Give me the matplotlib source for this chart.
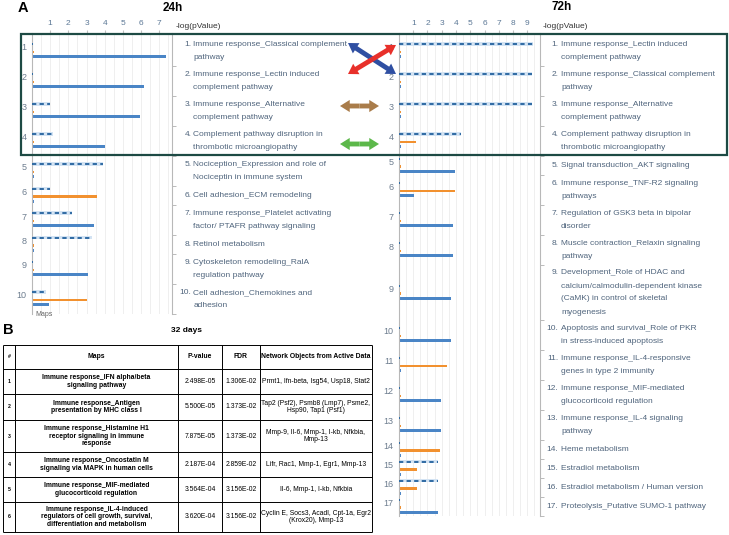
import numpy as np
import matplotlib
matplotlib.use("Agg")
import matplotlib.pyplot as plt
from matplotlib.patches import Rectangle, FancyArrowPatch

plt.rcParams['font.family'] = ['Liberation Sans', 'DejaVu Sans']

# ---- panel A, 24h ----
labels_24h = [
    "Immune response_Classical complement\npathway",
    "Immune response_Lectin induced\ncomplement pathway",
    "Immune response_Alternative\ncomplement pathway",
    "Complement pathway disruption in\nthrombotic microangiopathy",
    "Nociception_Expression and role of\nNociceptin in immune system",
    "Cell adhesion_ECM remodeling",
    "Immune response_Platelet activating\nfactor/ PTAFR pathway signaling",
    "Retinol metabolism",
    "Cytoskeleton remodeling_RalA\nregulation pathway",
    "Cell adhesion_Chemokines and\nadhesion",
]
hatched_24h = [0.05, 0.05, 1.0, 1.15, 3.9, 1.0, 2.2, 3.3, 0.05, 0.75]
orange_24h = [0.12, 0.12, 0.12, 0.12, 0.12, 3.6, 0.12, 0.12, 0.12, 3.05]
blue_24h = [7.4, 6.15, 5.97, 4.03, 0.12, 0.12, 3.4, 0.12, 3.1, 0.95]

# ---- panel A, 72h ----
labels_72h = [
    "Immune response_Lectin induced\ncomplement pathway",
    "Immune response_Classical complement\npathway",
    "Immune response_Alternative\ncomplement pathway",
    "Complement pathway disruption in\nthrombotic microangiopathy",
    "Signal transduction_AKT signaling",
    "Immune response_TNF-R2 signaling\npathways",
    "Regulation of GSK3 beta in bipolar\ndisorder",
    "Muscle contraction_Relaxin signaling\npathway",
    "Development_Role of HDAC and\ncalcium/calmodulin-dependent kinase\n(CaMK) in control of skeletal\nmyogenesis",
    "Apoptosis and survival_Role of PKR\nin stress-induced apoptosis",
    "Immune response_IL-4-responsive\ngenes in type 2 immunity",
    "Immune response_MIF-mediated\nglucocorticoid regulation",
    "Immune response_IL-4 signaling\npathway",
    "Heme metabolism",
    "Estradiol metabolism",
    "Estradiol metabolism / Human version",
    "Proteolysis_Putative SUMO-1 pathway",
]
hatched_72h = [9.37, 9.3, 9.3, 4.35, 0.05, 0.05, 0.05, 0.05, 0.05, 0.05,
               0.05, 0.05, 0.05, 0.05, 2.75, 2.75, 0.05]
orange_72h = [0.14, 0.14, 0.14, 1.2, 0.14, 3.95, 0.14, 0.14, 0.14, 0.14,
              3.37, 0.14, 0.14, 2.88, 1.25, 1.25, 0.14]
blue_72h = [0.14, 0.14, 0.14, 0.14, 3.95, 1.07, 3.8, 3.78, 3.67, 3.67,
            0.14, 2.95, 2.95, 0.14, 0.14, 0.14, 2.75]

# ---- panel B table ----
table_header = ["#", "Maps", "P-value", "FDR", "Network Objects from Active Data"]
table_maps = [
    "Immune response_IFN alpha/beta\nsignaling pathway",
    "Immune response_Antigen\npresentation by MHC class I",
    "Immune response_Histamine H1\nreceptor signaling in immune\nresponse",
    "Immune response_Oncostatin M\nsignaling via MAPK in human cells",
    "Immune response_MIF-mediated\nglucocorticoid regulation",
    "Immune response_IL-4-induced\nregulators of cell growth, survival,\ndifferentiation and metabolism",
]
table_pvalue = ["2.498E-05", "5.500E-05", "7.875E-05", "2.187E-04", "3.564E-04", "3.620E-04"]
table_fdr = ["1.306E-02", "1.373E-02", "1.373E-02", "2.859E-02", "3.156E-02", "3.156E-02"]
table_objects = [
    "Prmt1, Ifn-beta, Isg54, Usp18, Stat2",
    "Tap2 (Psf2), Psmb8 (Lmp7), Psme2,\nHsp90, Tap1 (Psf1)",
    "Mmp-9, Il-6, Mmp-1, I-kb, Nfkbia,\nMmp-13",
    "Lifr, Rac1, Mmp-1, Egr1, Mmp-13",
    "Il-6, Mmp-1, I-kb, Nfkbia",
    "Cyclin E, Socs3, Acadl, Cpt-1a, Egr2\n(Krox20), Mmp-13",
]

W, H = 729, 535
fig = plt.figure(figsize=(W / 100, H / 100), dpi=100)

TOP = 36
LINE = 13  # px between text lines in the pathway lists
TXT = '#50657d'
HATCH_FILL = '#d3e3f3'
HATCH_DASH = '#2f6aa3'
ORANGE = '#f2912f'
BLUE = '#4a85c6'


def px_axes(x0, y0, x1, y1):
    return fig.add_axes([x0 / W, 1 - y1 / H, (x1 - x0) / W, (y1 - y0) / H])


def row_layout(labels):
    nlines = np.array([l.count('\n') + 1 for l in labels])
    heights = np.maximum(19.0, 5 + 12.5 * nlines)
    edges = np.concatenate([[0], np.cumsum(heights)])
    centers = (edges[:-1] + edges[1:]) / 2
    return nlines, edges, centers


def draw_chart(x0, x1, xmax, labels, s_h, s_o, s_b):
    nlines, edges, centers = row_layout(labels)
    total = edges[-1]
    ax = px_axes(x0, TOP - 3, x1, TOP + total)
    ax.set_xlim(0, xmax)
    ax.set_ylim(total, -3)
    ax.barh(centers - 7, s_h, height=3.6, color=HATCH_FILL, zorder=2)
    ax.hlines(centers - 7, 0, s_h, colors=HATCH_DASH, lw=1.4,
              linestyles=[(0, (2.2, 1.7))], zorder=3)
    ax.barh(centers + 1, s_o, height=2.6, color=ORANGE, zorder=2)
    ax.barh(centers + 5.5, s_b, height=3.0, color=BLUE, zorder=2)

    ax.xaxis.tick_top()
    ax.set_xticks(np.arange(1, int(xmax) + 1))
    ax.set_xticks(np.arange(0.5, xmax, 0.5), minor=True)
    ax.grid(axis='x', which='both', color='#ededed', lw=0.6)
    ax.set_axisbelow(True)
    ax.tick_params(axis='x', which='major', length=2, pad=2, labelsize=6,
                   labelcolor='#5c7896', color='#c0c0c0')
    ax.tick_params(axis='x', which='minor', length=0)

    ax.set_yticks(centers - 4)
    ax.set_yticklabels([str(i + 1) for i in range(len(labels))])
    ax.tick_params(axis='y', which='major', length=0, pad=4, labelsize=6.5,
                   labelcolor='#6d7d8f')
    ax.set_yticks(edges[1:], minor=True)
    ax.tick_params(axis='y', which='minor', left=False, right=True, length=3,
                   color='#b0b0b0')
    for s in ('top', 'bottom'):
        ax.spines[s].set_visible(False)
    for s in ('left', 'right'):
        ax.spines[s].set_color('#b8b8b8')
        ax.spines[s].set_linewidth(0.8)
    return nlines, centers


n24, c24 = draw_chart(32, 172, (172 - 32) / 18.17, labels_24h, hatched_24h, orange_24h, blue_24h)
n72, c72 = draw_chart(399, 540, (540 - 399) / 14.25, labels_72h, hatched_72h, orange_72h, blue_72h)

# overlay in pixel coordinates
ov = fig.add_axes([0, 0, 1, 1])
ov.set_xlim(0, W)
ov.set_ylim(H, 0)
ov.axis('off')


def draw_labels(labels, nlines, centers, num_x, txt_x):
    for i, (lab, n, c) in enumerate(zip(labels, nlines, centers)):
        y0 = TOP + c - (n - 1) * LINE / 2
        ov.text(num_x, y0, f"{i + 1}.", ha='right', va='center',
                fontsize=6.05, color=TXT)
        for k, line in enumerate(lab.split('\n')):
            ov.text(txt_x, y0 + k * LINE, line, ha='left', va='center',
                    fontsize=6.05, color=TXT)


draw_labels(labels_24h, n24, c24, 191.5, 193.5)
draw_labels(labels_72h, n72, c72, 558.5, 561)

ov.text(18, 8, "A", fontsize=10.5, fontweight='bold', va='center', ha='left')
ov.text(173, 8, "24h", fontsize=8.5, fontweight='bold', va='center', ha='center')
ov.text(562, 7, "72h", fontsize=8.5, fontweight='bold', va='center', ha='center')
ov.text(176, 27, "-log(pValue)", fontsize=6, color='#333333', va='center')
ov.text(543, 27, "-log(pValue)", fontsize=6, color='#333333', va='center')
ov.text(35, 314, "Maps", fontsize=5, color='#666666', va='center')

ov.add_patch(Rectangle((21, 34), 706, 121, fill=False, edgecolor='#1d4a44', lw=1.6))


def arrow(p, q, color):
    ov.add_patch(FancyArrowPatch(p, q, arrowstyle='simple,head_length=1.0,head_width=1.25,tail_width=0.5',
                                 mutation_scale=7, color=color, lw=0, shrinkA=0, shrinkB=0))


def double_arrow(p, q, color):
    m = ((p[0] + q[0]) / 2, (p[1] + q[1]) / 2)
    arrow(m, p, color)
    arrow(m, q, color)


double_arrow((348, 43), (396, 74), '#2f4fa2')
double_arrow((348, 74), (396, 45), '#e8302a')
double_arrow((340, 106), (379, 106), '#a97c4a')
double_arrow((340, 144), (379, 144), '#5cb84a')

# ---- panel B ----
ov.text(3, 330, "B", fontsize=10.5, fontweight='bold', va='center', ha='left')
ov.text(187, 331, "32 days", fontsize=6, fontweight='bold', va='center', ha='center')

col_edges = [3, 15, 178, 222, 260, 372]
row_edges = [345, 369, 394, 420, 452, 477, 502, 532]
ov.hlines(row_edges, col_edges[0], col_edges[-1], colors='black', lw=0.7)
ov.vlines(col_edges, row_edges[0], row_edges[-1], colors='black', lw=0.7)

xc = [(a + b) / 2 for a, b in zip(col_edges[:-1], col_edges[1:])]
yc = [(a + b) / 2 for a, b in zip(row_edges[:-1], row_edges[1:])]
FS = 4.9
for j, h in enumerate(table_header):
    ov.text(xc[j], yc[0], h, ha='center', va='center', fontsize=FS if j else 3.8,
            fontweight='bold')
for i in range(len(table_maps)):
    y = yc[i + 1]
    ov.text(xc[0], y, str(i + 1), ha='center', va='center', fontsize=3.8, fontweight='bold')
    ov.text(xc[1], y, table_maps[i], ha='center', va='center', fontsize=FS,
            fontweight='bold', linespacing=1.15)
    ov.text(xc[2], y, table_pvalue[i], ha='center', va='center', fontsize=FS)
    ov.text(xc[3], y, table_fdr[i], ha='center', va='center', fontsize=FS)
    ov.text(xc[4], y, table_objects[i], ha='center', va='center', fontsize=FS,
            linespacing=1.15)

fig.savefig("out.png", dpi=100)
